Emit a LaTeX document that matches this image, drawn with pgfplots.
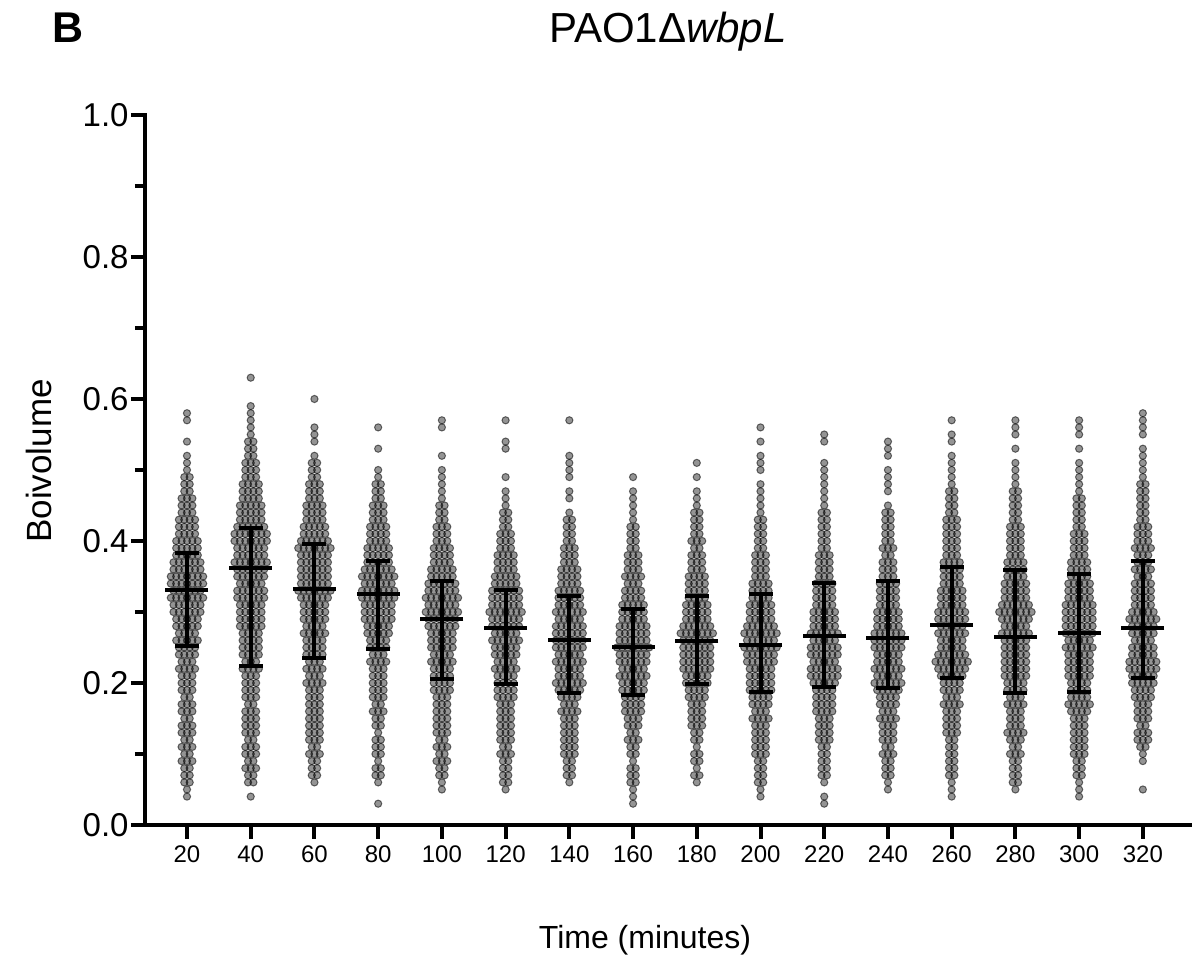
\documentclass[border=0pt]{standalone}
\usepackage{pgfplots}
\pgfplotsset{compat=1.18}
\usepackage{fontspec}
\setmainfont{Liberation Sans}

\pgfdeclareplotmark{dotrow}{%
  \pgfmathtruncatemacro\nn{\nrow}%
  \foreach \j in {1,...,\nn}{%
    \pgfmathsetmacro\dx{(\j-(\nn+1)/2)*2.7}%
    \pgfpathcircle{\pgfpoint{\dx pt}{0pt}}{1.8pt}%
    \pgfusepath{fill,stroke}%
  }%
}

\pgfplotsset{
  swarm/.style={only marks, mark=dotrow,
    mark options={draw=black, fill=black, draw opacity=0.55, fill opacity=0.42, line width=0.5pt},
    visualization depends on={\thisrow{n}\as\nrow}},
}

\begin{document}
\begin{tikzpicture}
\path[use as bounding box] (-72.5pt,-68.5pt) rectangle (529pt,412.5pt);
\begin{axis}[
  at={(0pt,0pt)}, anchor=south west,
  scale only axis, width=522.5pt, height=355pt,
  xmin=-0.659, xmax=15.74, ymin=0, ymax=1,
  clip=false,
  axis x line*=bottom, axis y line*=left,
  axis line style={line width=2.3pt, line cap=rect},
  x axis line style={shorten <=-6pt},
  tick align=outside,
  major tick length=7pt, minor tick length=5pt,
  tick style={line width=2pt, black},
  xtick={0,...,15},
  xticklabels={20,40,60,80,100,120,140,160,180,200,220,240,260,280,300,320},
  ytick={0,0.2,0.4,0.6,0.8,1.0},
  minor ytick={0.1,0.3,0.5,0.7,0.9},
  /pgf/number format/assume math mode=true,
  /pgf/number format/fixed,
  /pgf/number format/fixed zerofill,
  /pgf/number format/precision=1,
  yticklabel style={font=\fontsize{16.5}{19}\selectfont, inner sep=1pt},
  xticklabel style={font=\fontsize{12}{14}\selectfont, inner sep=1pt, yshift=-2pt},
]
% swarm rows: y = value level, n = number of dots side by side at that level
\addplot[swarm] table[x expr=0, y=y, row sep=\\]{y n\\ 0.04 1\\ 0.05 1\\ 0.06 2\\ 0.07 2\\ 0.08 2\\ 0.09 3\\ 0.10 2\\ 0.11 3\\ 0.12 2\\ 0.13 3\\ 0.14 3\\ 0.15 2\\ 0.16 3\\ 0.17 3\\ 0.18 2\\ 0.19 3\\ 0.20 3\\ 0.21 3\\ 0.22 4\\ 0.23 3\\ 0.24 4\\ 0.25 4\\ 0.26 5\\ 0.27 4\\ 0.28 5\\ 0.29 5\\ 0.30 6\\ 0.31 6\\ 0.32 7\\ 0.33 6\\ 0.34 7\\ 0.35 7\\ 0.36 6\\ 0.37 6\\ 0.38 5\\ 0.39 5\\ 0.40 5\\ 0.41 4\\ 0.42 4\\ 0.43 4\\ 0.44 3\\ 0.45 3\\ 0.46 3\\ 0.47 2\\ 0.48 2\\ 0.49 2\\ 0.50 1\\ 0.51 1\\ 0.52 1\\ 0.54 1\\ 0.57 1\\ 0.58 1\\};
\addplot[swarm] table[x expr=1, y=y, row sep=\\]{y n\\ 0.04 1\\ 0.06 2\\ 0.07 2\\ 0.08 3\\ 0.09 2\\ 0.10 3\\ 0.11 3\\ 0.12 2\\ 0.13 3\\ 0.14 3\\ 0.15 3\\ 0.16 3\\ 0.17 2\\ 0.18 3\\ 0.19 3\\ 0.20 3\\ 0.21 3\\ 0.22 4\\ 0.23 3\\ 0.24 4\\ 0.25 4\\ 0.26 4\\ 0.27 4\\ 0.28 5\\ 0.29 5\\ 0.30 5\\ 0.31 5\\ 0.32 6\\ 0.33 6\\ 0.34 5\\ 0.35 6\\ 0.36 6\\ 0.37 7\\ 0.38 6\\ 0.39 6\\ 0.40 7\\ 0.41 7\\ 0.42 6\\ 0.43 5\\ 0.44 5\\ 0.45 5\\ 0.46 4\\ 0.47 4\\ 0.48 4\\ 0.49 3\\ 0.50 3\\ 0.51 3\\ 0.52 2\\ 0.53 2\\ 0.54 2\\ 0.55 1\\ 0.56 1\\ 0.57 1\\ 0.58 1\\ 0.59 1\\ 0.63 1\\};
\addplot[swarm] table[x expr=2, y=y, row sep=\\]{y n\\ 0.06 1\\ 0.07 2\\ 0.08 2\\ 0.09 2\\ 0.10 3\\ 0.11 2\\ 0.12 3\\ 0.13 3\\ 0.14 3\\ 0.15 3\\ 0.16 3\\ 0.17 3\\ 0.18 3\\ 0.19 3\\ 0.20 4\\ 0.21 3\\ 0.22 4\\ 0.23 3\\ 0.24 4\\ 0.25 4\\ 0.26 4\\ 0.27 5\\ 0.28 4\\ 0.29 5\\ 0.30 5\\ 0.31 5\\ 0.32 6\\ 0.33 7\\ 0.34 6\\ 0.35 6\\ 0.36 6\\ 0.37 6\\ 0.38 6\\ 0.39 7\\ 0.40 6\\ 0.41 5\\ 0.42 5\\ 0.43 4\\ 0.44 4\\ 0.45 4\\ 0.46 3\\ 0.47 3\\ 0.48 3\\ 0.49 2\\ 0.50 2\\ 0.51 2\\ 0.52 1\\ 0.54 1\\ 0.55 1\\ 0.56 1\\ 0.60 1\\};
\addplot[swarm] table[x expr=3, y=y, row sep=\\]{y n\\ 0.03 1\\ 0.06 1\\ 0.07 2\\ 0.08 2\\ 0.09 1\\ 0.10 2\\ 0.11 2\\ 0.12 2\\ 0.13 1\\ 0.14 2\\ 0.15 2\\ 0.16 3\\ 0.17 2\\ 0.18 3\\ 0.19 3\\ 0.20 3\\ 0.21 3\\ 0.22 3\\ 0.23 4\\ 0.24 3\\ 0.25 4\\ 0.26 4\\ 0.27 5\\ 0.28 5\\ 0.29 6\\ 0.30 6\\ 0.31 6\\ 0.32 7\\ 0.33 7\\ 0.34 6\\ 0.35 7\\ 0.36 6\\ 0.37 5\\ 0.38 5\\ 0.39 5\\ 0.40 4\\ 0.41 4\\ 0.42 4\\ 0.43 3\\ 0.44 3\\ 0.45 3\\ 0.46 2\\ 0.47 2\\ 0.48 2\\ 0.49 1\\ 0.50 1\\ 0.53 1\\ 0.56 1\\};
\addplot[swarm] table[x expr=4, y=y, row sep=\\]{y n\\ 0.05 1\\ 0.06 1\\ 0.07 2\\ 0.08 2\\ 0.09 3\\ 0.10 2\\ 0.11 3\\ 0.12 2\\ 0.13 3\\ 0.14 3\\ 0.15 3\\ 0.16 3\\ 0.17 3\\ 0.18 3\\ 0.19 4\\ 0.20 4\\ 0.21 4\\ 0.22 4\\ 0.23 5\\ 0.24 4\\ 0.25 5\\ 0.26 5\\ 0.27 5\\ 0.28 6\\ 0.29 6\\ 0.30 7\\ 0.31 6\\ 0.32 7\\ 0.33 6\\ 0.34 6\\ 0.35 5\\ 0.36 5\\ 0.37 4\\ 0.38 4\\ 0.39 4\\ 0.40 3\\ 0.41 3\\ 0.42 3\\ 0.43 2\\ 0.44 2\\ 0.45 2\\ 0.46 1\\ 0.47 1\\ 0.48 1\\ 0.49 1\\ 0.50 1\\ 0.52 1\\ 0.56 1\\ 0.57 1\\};
\addplot[swarm] table[x expr=5, y=y, row sep=\\]{y n\\ 0.05 1\\ 0.06 2\\ 0.07 2\\ 0.08 2\\ 0.09 2\\ 0.10 3\\ 0.11 2\\ 0.12 3\\ 0.13 3\\ 0.14 3\\ 0.15 3\\ 0.16 3\\ 0.17 3\\ 0.18 4\\ 0.19 4\\ 0.20 4\\ 0.21 4\\ 0.22 5\\ 0.23 4\\ 0.24 5\\ 0.25 5\\ 0.26 6\\ 0.27 5\\ 0.28 6\\ 0.29 6\\ 0.30 7\\ 0.31 6\\ 0.32 6\\ 0.33 6\\ 0.34 5\\ 0.35 5\\ 0.36 4\\ 0.37 4\\ 0.38 4\\ 0.39 3\\ 0.40 3\\ 0.41 3\\ 0.42 2\\ 0.43 2\\ 0.44 2\\ 0.45 1\\ 0.46 1\\ 0.47 1\\ 0.49 1\\ 0.53 1\\ 0.54 1\\ 0.57 1\\};
\addplot[swarm] table[x expr=6, y=y, row sep=\\]{y n\\ 0.06 1\\ 0.07 2\\ 0.08 2\\ 0.09 2\\ 0.10 3\\ 0.11 3\\ 0.12 3\\ 0.13 3\\ 0.14 3\\ 0.15 3\\ 0.16 4\\ 0.17 3\\ 0.18 4\\ 0.19 5\\ 0.20 6\\ 0.21 5\\ 0.22 5\\ 0.23 6\\ 0.24 5\\ 0.25 6\\ 0.26 6\\ 0.27 6\\ 0.28 6\\ 0.29 5\\ 0.30 6\\ 0.31 5\\ 0.32 5\\ 0.33 5\\ 0.34 4\\ 0.35 4\\ 0.36 4\\ 0.37 3\\ 0.38 3\\ 0.39 3\\ 0.40 2\\ 0.41 2\\ 0.42 2\\ 0.43 2\\ 0.44 1\\ 0.46 1\\ 0.47 1\\ 0.49 1\\ 0.50 1\\ 0.51 1\\ 0.52 1\\ 0.57 1\\};
\addplot[swarm] table[x expr=7, y=y, row sep=\\]{y n\\ 0.03 1\\ 0.04 1\\ 0.05 1\\ 0.06 2\\ 0.07 2\\ 0.08 2\\ 0.09 1\\ 0.10 2\\ 0.11 2\\ 0.12 3\\ 0.13 2\\ 0.14 3\\ 0.15 3\\ 0.16 4\\ 0.17 4\\ 0.18 4\\ 0.19 5\\ 0.20 5\\ 0.21 6\\ 0.22 5\\ 0.23 6\\ 0.24 6\\ 0.25 7\\ 0.26 6\\ 0.27 6\\ 0.28 6\\ 0.29 5\\ 0.30 5\\ 0.31 5\\ 0.32 4\\ 0.33 4\\ 0.34 3\\ 0.35 4\\ 0.36 3\\ 0.37 3\\ 0.38 3\\ 0.39 2\\ 0.40 2\\ 0.41 2\\ 0.42 2\\ 0.43 1\\ 0.44 1\\ 0.45 1\\ 0.46 1\\ 0.47 1\\ 0.49 1\\};
\addplot[swarm] table[x expr=8, y=y, row sep=\\]{y n\\ 0.06 1\\ 0.07 2\\ 0.08 1\\ 0.09 2\\ 0.10 2\\ 0.11 1\\ 0.12 2\\ 0.13 2\\ 0.14 3\\ 0.15 3\\ 0.16 3\\ 0.17 3\\ 0.18 4\\ 0.19 4\\ 0.20 5\\ 0.21 5\\ 0.22 6\\ 0.23 6\\ 0.24 6\\ 0.25 6\\ 0.26 6\\ 0.27 7\\ 0.28 6\\ 0.29 5\\ 0.30 5\\ 0.31 5\\ 0.32 4\\ 0.33 4\\ 0.34 4\\ 0.35 4\\ 0.36 3\\ 0.37 3\\ 0.38 3\\ 0.39 2\\ 0.40 3\\ 0.41 2\\ 0.42 2\\ 0.43 2\\ 0.44 2\\ 0.45 1\\ 0.46 1\\ 0.47 1\\ 0.49 1\\ 0.51 1\\};
\addplot[swarm] table[x expr=9, y=y, row sep=\\]{y n\\ 0.04 1\\ 0.05 1\\ 0.06 2\\ 0.07 2\\ 0.08 2\\ 0.09 2\\ 0.10 3\\ 0.11 3\\ 0.12 3\\ 0.13 3\\ 0.14 3\\ 0.15 4\\ 0.16 3\\ 0.17 4\\ 0.18 4\\ 0.19 5\\ 0.20 5\\ 0.21 5\\ 0.22 5\\ 0.23 6\\ 0.24 6\\ 0.25 7\\ 0.26 6\\ 0.27 7\\ 0.28 6\\ 0.29 5\\ 0.30 5\\ 0.31 5\\ 0.32 4\\ 0.33 4\\ 0.34 4\\ 0.35 3\\ 0.36 3\\ 0.37 3\\ 0.38 3\\ 0.39 2\\ 0.40 2\\ 0.41 2\\ 0.42 2\\ 0.43 2\\ 0.44 1\\ 0.45 1\\ 0.46 1\\ 0.47 1\\ 0.48 1\\ 0.50 1\\ 0.51 1\\ 0.52 1\\ 0.54 1\\ 0.56 1\\};
\addplot[swarm] table[x expr=10, y=y, row sep=\\]{y n\\ 0.03 1\\ 0.04 1\\ 0.06 1\\ 0.07 2\\ 0.08 2\\ 0.09 2\\ 0.10 2\\ 0.11 2\\ 0.12 3\\ 0.13 3\\ 0.14 3\\ 0.15 3\\ 0.16 4\\ 0.17 4\\ 0.18 4\\ 0.19 4\\ 0.20 5\\ 0.21 6\\ 0.22 6\\ 0.23 5\\ 0.24 6\\ 0.25 6\\ 0.26 5\\ 0.27 6\\ 0.28 5\\ 0.29 5\\ 0.30 5\\ 0.31 4\\ 0.32 4\\ 0.33 4\\ 0.34 4\\ 0.35 3\\ 0.36 3\\ 0.37 3\\ 0.38 3\\ 0.39 2\\ 0.40 2\\ 0.41 2\\ 0.42 2\\ 0.43 2\\ 0.44 2\\ 0.45 1\\ 0.46 1\\ 0.47 1\\ 0.48 1\\ 0.49 1\\ 0.50 1\\ 0.51 1\\ 0.54 1\\ 0.55 1\\};
\addplot[swarm] table[x expr=11, y=y, row sep=\\]{y n\\ 0.05 1\\ 0.06 1\\ 0.07 2\\ 0.08 2\\ 0.09 2\\ 0.10 3\\ 0.11 2\\ 0.12 3\\ 0.13 3\\ 0.14 3\\ 0.15 4\\ 0.16 3\\ 0.17 4\\ 0.18 4\\ 0.19 5\\ 0.20 6\\ 0.21 5\\ 0.22 6\\ 0.23 5\\ 0.24 5\\ 0.25 6\\ 0.26 6\\ 0.27 6\\ 0.28 5\\ 0.29 5\\ 0.30 5\\ 0.31 4\\ 0.32 4\\ 0.33 4\\ 0.34 4\\ 0.35 3\\ 0.36 3\\ 0.37 3\\ 0.38 2\\ 0.39 3\\ 0.40 2\\ 0.41 2\\ 0.42 2\\ 0.43 2\\ 0.44 2\\ 0.45 1\\ 0.47 1\\ 0.48 1\\ 0.49 1\\ 0.50 1\\ 0.52 1\\ 0.53 1\\ 0.54 1\\};
\addplot[swarm] table[x expr=12, y=y, row sep=\\]{y n\\ 0.04 1\\ 0.05 1\\ 0.06 1\\ 0.07 2\\ 0.08 2\\ 0.09 2\\ 0.10 2\\ 0.11 2\\ 0.12 2\\ 0.13 3\\ 0.14 3\\ 0.15 3\\ 0.16 3\\ 0.17 4\\ 0.18 3\\ 0.19 4\\ 0.20 4\\ 0.21 5\\ 0.22 6\\ 0.23 7\\ 0.24 6\\ 0.25 5\\ 0.26 5\\ 0.27 6\\ 0.28 5\\ 0.29 6\\ 0.30 6\\ 0.31 5\\ 0.32 5\\ 0.33 5\\ 0.34 4\\ 0.35 4\\ 0.36 4\\ 0.37 4\\ 0.38 3\\ 0.39 3\\ 0.40 3\\ 0.41 3\\ 0.42 3\\ 0.43 3\\ 0.44 2\\ 0.45 2\\ 0.46 2\\ 0.47 2\\ 0.48 1\\ 0.49 1\\ 0.50 1\\ 0.51 1\\ 0.52 1\\ 0.54 1\\ 0.55 1\\ 0.57 1\\};
\addplot[swarm] table[x expr=13, y=y, row sep=\\]{y n\\ 0.05 1\\ 0.06 2\\ 0.07 2\\ 0.08 2\\ 0.09 2\\ 0.10 3\\ 0.11 2\\ 0.12 3\\ 0.13 4\\ 0.14 3\\ 0.15 3\\ 0.16 3\\ 0.17 4\\ 0.18 3\\ 0.19 4\\ 0.20 4\\ 0.21 5\\ 0.22 5\\ 0.23 5\\ 0.24 5\\ 0.25 5\\ 0.26 5\\ 0.27 6\\ 0.28 5\\ 0.29 6\\ 0.30 7\\ 0.31 6\\ 0.32 5\\ 0.33 5\\ 0.34 5\\ 0.35 4\\ 0.36 4\\ 0.37 4\\ 0.38 3\\ 0.39 3\\ 0.40 3\\ 0.41 3\\ 0.42 3\\ 0.43 2\\ 0.44 2\\ 0.45 2\\ 0.46 2\\ 0.47 2\\ 0.48 1\\ 0.49 1\\ 0.50 1\\ 0.51 1\\ 0.53 1\\ 0.55 1\\ 0.56 1\\ 0.57 1\\};
\addplot[swarm] table[x expr=14, y=y, row sep=\\]{y n\\ 0.04 1\\ 0.05 1\\ 0.06 1\\ 0.07 2\\ 0.08 2\\ 0.09 2\\ 0.10 3\\ 0.11 3\\ 0.12 3\\ 0.13 3\\ 0.14 3\\ 0.15 3\\ 0.16 4\\ 0.17 5\\ 0.18 4\\ 0.19 4\\ 0.20 4\\ 0.21 5\\ 0.22 5\\ 0.23 5\\ 0.24 5\\ 0.25 6\\ 0.26 5\\ 0.27 6\\ 0.28 6\\ 0.29 6\\ 0.30 6\\ 0.31 6\\ 0.32 5\\ 0.33 5\\ 0.34 5\\ 0.35 4\\ 0.36 4\\ 0.37 4\\ 0.38 3\\ 0.39 3\\ 0.40 3\\ 0.41 3\\ 0.42 2\\ 0.43 2\\ 0.44 2\\ 0.45 2\\ 0.46 2\\ 0.47 1\\ 0.48 1\\ 0.49 1\\ 0.50 1\\ 0.51 1\\ 0.53 1\\ 0.55 1\\ 0.56 1\\ 0.57 1\\};
\addplot[swarm] table[x expr=15, y=y, row sep=\\]{y n\\ 0.05 1\\ 0.09 1\\ 0.10 1\\ 0.11 2\\ 0.12 3\\ 0.13 3\\ 0.14 2\\ 0.15 3\\ 0.16 3\\ 0.17 3\\ 0.18 4\\ 0.19 4\\ 0.20 5\\ 0.21 5\\ 0.22 6\\ 0.23 6\\ 0.24 5\\ 0.25 5\\ 0.26 4\\ 0.27 5\\ 0.28 5\\ 0.29 6\\ 0.30 5\\ 0.31 4\\ 0.32 4\\ 0.33 4\\ 0.34 4\\ 0.35 3\\ 0.36 4\\ 0.37 3\\ 0.38 3\\ 0.39 4\\ 0.40 3\\ 0.41 3\\ 0.42 3\\ 0.43 2\\ 0.44 2\\ 0.45 2\\ 0.46 2\\ 0.47 2\\ 0.48 2\\ 0.49 1\\ 0.50 1\\ 0.51 1\\ 0.52 1\\ 0.53 1\\ 0.55 1\\ 0.56 1\\ 0.57 1\\ 0.58 1\\};
% central line and spread bars
\addplot[only marks, mark=-, mark size=10.75pt, mark options={line width=2pt, black},
  error bars/.cd, y dir=both, y explicit, error mark=|,
  error mark options={line width=2pt, mark size=6pt, black},
  error bar style={line width=2pt, black}]
  table[x=x, y=m, y error plus expr=\thisrow{h}-\thisrow{m}, y error minus expr=\thisrow{m}-\thisrow{l}, row sep=\\]{
x m h l\\
0 0.331 0.3835 0.252\\
1 0.3615 0.419 0.224\\
2 0.333 0.396 0.235\\
3 0.325 0.372 0.248\\
4 0.290 0.344 0.205\\
5 0.277 0.331 0.199\\
6 0.260 0.322 0.186\\
7 0.251 0.304 0.183\\
8 0.259 0.3225 0.199\\
9 0.2535 0.325 0.187\\
10 0.266 0.341 0.194\\
11 0.263 0.344 0.1925\\
12 0.282 0.363 0.207\\
13 0.265 0.359 0.1855\\
14 0.271 0.353 0.187\\
15 0.278 0.372 0.2075\\
};
\end{axis}
\node[anchor=base, font=\bfseries\fontsize{21.5}{24}\selectfont] at (-38.5pt,391pt) {B};
\node[anchor=base, font=\fontsize{21}{24}\selectfont] at (261.5pt,391pt) {PAO1Δ\textit{wbpL}};
\node[anchor=base, font=\fontsize{16}{19}\selectfont] at (250pt,-61.5pt) {Time (minutes)};
\node[anchor=base, rotate=90, font=\fontsize{17.5}{20}\selectfont] at (-46.5pt,182pt) {Boivolume};
\end{tikzpicture}
\end{document}
